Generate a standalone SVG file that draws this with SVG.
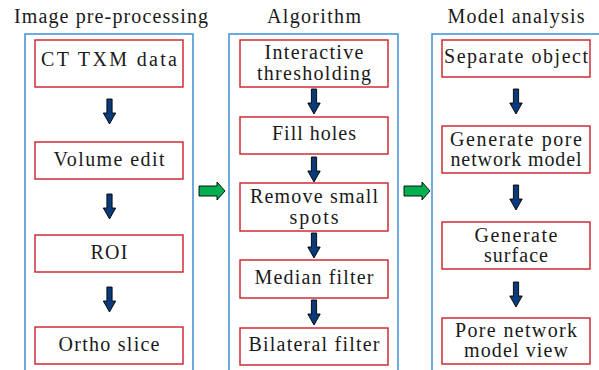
<svg xmlns="http://www.w3.org/2000/svg" width="599" height="370" viewBox="0 0 599 370">
<style>
  .panel{fill:none;stroke:#3f8dd6;stroke-width:1.5}
  .box{fill:#fff;stroke:#cc1f2a;stroke-width:1.4}
  text{font-family:"Liberation Serif","DejaVu Serif",serif;font-size:20px;fill:#1a1a1a;text-anchor:middle}
  .darr{fill:#0a3a78;stroke:#000;stroke-width:0.9}
  .garr{fill:#00b050;stroke:#000;stroke-width:0.9}
</style>
<defs>
  <path id="down" d="M-2.6,0 H2.6 V14 H6.2 L0,25 L-6.2,14 H-2.6 Z"/>
  <path id="right" d="M0,4 H18 V0 L26,9 L18,18 V14 H0 Z"/>
</defs>
<rect width="599" height="370" fill="#fff"/>

<g id="panels">
  <path class="panel" d="M25,371 V34 H193 V371"/>
  <path class="panel" d="M229,371 V34 H398 V371"/>
  <path class="panel" d="M432,371 V34 H602"/>
  <text x="111" y="23" textLength="194" lengthAdjust="spacing">Image pre-processing</text>
  <text x="314" y="23" textLength="94" lengthAdjust="spacing">Algorithm</text>
  <text x="516" y="23" textLength="137" lengthAdjust="spacing">Model analysis</text>
</g>

<g id="connectors">
  <use href="#down" class="darr" x="109.5" y="99"/>
  <use href="#down" class="darr" x="109.5" y="194"/>
  <use href="#down" class="darr" x="109.5" y="287"/>
  <use href="#down" class="darr" x="314" y="89"/>
  <use href="#down" class="darr" x="314" y="157"/>
  <use href="#down" class="darr" x="314" y="233"/>
  <use href="#down" class="darr" x="314" y="300"/>
  <use href="#down" class="darr" x="516" y="89"/>
  <use href="#down" class="darr" x="516" y="185"/>
  <use href="#down" class="darr" x="516" y="282"/>
  <use href="#right" class="garr" x="199" y="182"/>
  <use href="#right" class="garr" x="404" y="182"/>
</g>

<g id="n-ct">
  <rect class="box" x="35" y="40" width="148" height="47"/>
  <text x="109" y="66" textLength="136" lengthAdjust="spacing">CT TXM data</text>
</g>
<g id="n-volume">
  <rect class="box" x="35" y="142" width="148" height="37"/>
  <text x="109" y="166" textLength="111" lengthAdjust="spacing">Volume edit</text>
</g>
<g id="n-roi">
  <rect class="box" x="35" y="235" width="148" height="37"/>
  <text x="109" y="259" textLength="37" lengthAdjust="spacing">ROI</text>
</g>
<g id="n-ortho">
  <rect class="box" x="35" y="327" width="148" height="37"/>
  <text x="109" y="351" textLength="101" lengthAdjust="spacing">Ortho slice</text>
</g>

<g id="n-thresh">
  <rect class="box" x="240" y="40" width="148" height="47"/>
  <text x="314" y="59" textLength="99" lengthAdjust="spacing">Interactive</text>
  <text x="314" y="80" textLength="114" lengthAdjust="spacing">thresholding</text>
</g>
<g id="n-fill">
  <rect class="box" x="240" y="117" width="148" height="37"/>
  <text x="314" y="140" textLength="84" lengthAdjust="spacing">Fill holes</text>
</g>
<g id="n-remove">
  <rect class="box" x="240" y="183" width="148" height="48"/>
  <text x="314" y="203" textLength="128" lengthAdjust="spacing">Remove small</text>
  <text x="314" y="224" textLength="49" lengthAdjust="spacing">spots</text>
</g>
<g id="n-median">
  <rect class="box" x="240" y="260" width="148" height="38"/>
  <text x="314" y="284" textLength="119" lengthAdjust="spacing">Median filter</text>
</g>
<g id="n-bilateral">
  <rect class="box" x="240" y="328" width="148" height="37"/>
  <text x="314" y="351" textLength="131" lengthAdjust="spacing">Bilateral filter</text>
</g>

<g id="n-separate">
  <rect class="box" x="442" y="40" width="148" height="37"/>
  <text x="516" y="63" textLength="144" lengthAdjust="spacing">Separate object</text>
</g>
<g id="n-pnm">
  <rect class="box" x="442" y="126" width="148" height="47"/>
  <text x="516" y="146" textLength="132" lengthAdjust="spacing">Generate pore</text>
  <text x="516" y="166" textLength="131" lengthAdjust="spacing">network model</text>
</g>
<g id="n-surface">
  <rect class="box" x="442" y="222" width="148" height="47"/>
  <text x="516" y="242" textLength="83" lengthAdjust="spacing">Generate</text>
  <text x="516" y="262" textLength="64" lengthAdjust="spacing">surface</text>
</g>
<g id="n-view">
  <rect class="box" x="442" y="318" width="148" height="46"/>
  <text x="516" y="337" textLength="122" lengthAdjust="spacing">Pore network</text>
  <text x="516" y="357" textLength="104" lengthAdjust="spacing">model view</text>
</g>
</svg>
